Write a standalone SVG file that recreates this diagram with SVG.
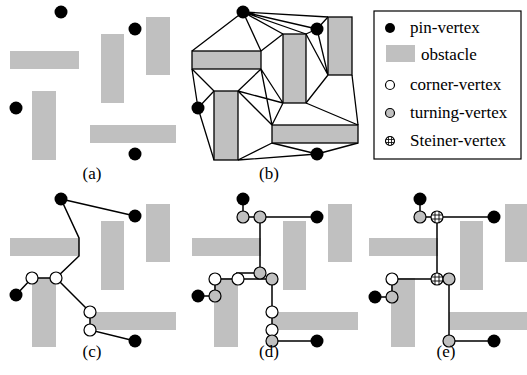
<svg xmlns="http://www.w3.org/2000/svg" width="527" height="375" viewBox="0 0 527 375">
<style>
.ob{fill:#c0c0c0}
.obs{fill:#c0c0c0;stroke:#000;stroke-width:1.3}
.pin{fill:#000}
.cv{fill:#fff;stroke:#000;stroke-width:1.2}
.tv{fill:#c0c0c0;stroke:#000;stroke-width:1.2}
.e{stroke:#000;stroke-width:1.3;fill:none}
.w{stroke:#000;stroke-width:1.5;fill:none}
.lbl{font-family:"Liberation Serif","Times New Roman",serif;font-size:17px;fill:#000}
</style>
<defs>
<g id="obstacles">
<rect class="ob" x="10" y="51" width="69" height="18"/>
<rect class="ob" x="101" y="34" width="23" height="69"/>
<rect class="ob" x="146" y="17" width="24" height="58"/>
<rect class="ob" x="32" y="91" width="24" height="69"/>
<rect class="ob" x="90" y="125" width="86" height="18"/>
</g>
<g id="steiner">
<circle r="6" fill="#fff" stroke="#000" stroke-width="1.2"/>
<path d="M-2,-5.6V5.6M2,-5.6V5.6M-5.6,-2H5.6M-5.6,2H5.6" stroke="#000" stroke-width="0.9"/>
</g>
<g id="steinerS">
<circle r="4.5" fill="#fff" stroke="#000" stroke-width="1.1"/>
<path d="M-1.5,-4.2V4.2M1.5,-4.2V4.2M-4.2,-1.5H4.2M-4.2,1.5H4.2" stroke="#000" stroke-width="0.8"/>
</g>
</defs>
<rect width="527" height="375" fill="#fff"/>

<!-- Panel (a) -->
<g id="panel-a">
<use href="#obstacles"/>
<g id="a-pins">
<circle class="pin" cx="61" cy="12" r="6.5"/>
<circle class="pin" cx="135" cy="29" r="6.5"/>
<circle class="pin" cx="16" cy="108" r="6.5"/>
<circle class="pin" cx="135" cy="154" r="6.5"/>
</g>
<text class="lbl" x="92" y="179" text-anchor="middle">(a)</text>
</g>

<!-- Panel (b) -->
<g id="panel-b" transform="translate(182,0)">
<g id="b-connectors" class="e">
<path d="M61,12L10,51M61,12L79,51M61,12L101,34M61,12L124,34M61,12L135,29M61,12L146,17"/>
<path d="M135,29L146,17M135,29L124,34M135,29L146,75M124,34L146,75M124,103L146,75"/>
<path d="M79,51L101,34M79,69L101,103M79,69L90,125M79,69L56,91M56,91L101,103M56,91L90,125M101,103L90,125"/>
<path d="M124,103L176,125M170,75L176,125"/>
<path d="M10,69L32,91M10,69L16,108M16,108L32,91M16,108L32,160"/>
<path d="M56,160L90,143M56,160L135,154M90,143L135,154M176,143L135,154"/>
</g>
<g id="b-obstacles">
<rect class="obs" x="10" y="51" width="69" height="18"/>
<rect class="obs" x="101" y="34" width="23" height="69"/>
<rect class="obs" x="146" y="17" width="24" height="58"/>
<rect class="obs" x="32" y="91" width="24" height="69"/>
<rect class="obs" x="90" y="125" width="86" height="18"/>
</g>
<g id="b-pins">
<circle class="pin" cx="61" cy="12" r="6.5"/>
<circle class="pin" cx="135" cy="29" r="6.5"/>
<circle class="pin" cx="16" cy="108" r="6.5"/>
<circle class="pin" cx="135" cy="154" r="6.5"/>
</g>
<text class="lbl" x="87" y="179" text-anchor="middle">(b)</text>
</g>

<!-- Legend -->
<g id="legend">
<rect x="374" y="11" width="147" height="148" fill="#fff" stroke="#000" stroke-width="1.2"/>
<g id="leg-pin"><circle class="pin" cx="390" cy="28" r="5"/><text class="lbl" x="410" y="33">pin-vertex</text></g>
<g id="leg-obstacle"><rect class="ob" x="386" y="45" width="29" height="17"/><text class="lbl" x="421" y="60">obstacle</text></g>
<g id="leg-corner"><circle class="cv" cx="390" cy="85" r="4.5"/><text class="lbl" x="410" y="90">corner-vertex</text></g>
<g id="leg-turning"><circle class="tv" cx="390" cy="113" r="4.5"/><text class="lbl" x="410" y="118">turning-vertex</text></g>
<g id="leg-steiner"><use href="#steinerS" x="390" y="141"/><text class="lbl" x="410" y="146">Steiner-vertex</text></g>
</g>

<!-- Panel (c) -->
<g id="panel-c" transform="translate(0,187)">
<use href="#obstacles"/>
<g id="c-connectors" class="w">
<path d="M61,12L135,29"/>
<path d="M61,12L79,51L79,69L56,91L32,91L16,108"/>
<path d="M56,91L90,125L90,143L135,154"/>
</g>
<g id="c-nodes">
<circle class="pin" cx="61" cy="12" r="6.5"/>
<circle class="pin" cx="135" cy="29" r="6.5"/>
<circle class="pin" cx="16" cy="108" r="6.5"/>
<circle class="pin" cx="135" cy="154" r="6.5"/>
<circle class="cv" cx="32" cy="91" r="6"/>
<circle class="cv" cx="56" cy="91" r="6"/>
<circle class="cv" cx="90" cy="125" r="6"/>
<circle class="cv" cx="90" cy="143" r="6"/>
</g>
<text class="lbl" x="92" y="170" text-anchor="middle">(c)</text>
</g>

<!-- Panel (d) -->
<g id="panel-d" transform="translate(182,187)">
<use href="#obstacles"/>
<g id="d-connectors" class="w">
<path d="M61,12L61,30L135,30"/>
<path d="M78,30L78,86L54,86"/>
<path d="M33,92L90,92L90,154L135,154"/>
<path d="M33,92L33,109L16,109"/>
</g>
<g id="d-nodes">
<circle class="pin" cx="61" cy="12" r="6.5"/>
<circle class="pin" cx="135" cy="30" r="6.5"/>
<circle class="pin" cx="16" cy="109" r="6.5"/>
<circle class="pin" cx="135" cy="154" r="6.5"/>
<circle class="tv" cx="61" cy="30" r="6"/>
<circle class="tv" cx="78" cy="30" r="6"/>
<circle class="tv" cx="78" cy="86" r="6"/>
<circle class="tv" cx="90" cy="92" r="6"/>
<circle class="cv" cx="33" cy="92" r="6"/>
<circle class="cv" cx="56" cy="92" r="6"/>
<circle class="tv" cx="33" cy="109" r="6"/>
<circle class="cv" cx="90" cy="125" r="6"/>
<circle class="cv" cx="90" cy="143" r="6"/>
<circle class="tv" cx="90" cy="154" r="6"/>
</g>
<text class="lbl" x="87" y="170" text-anchor="middle">(d)</text>
</g>

<!-- Panel (e) -->
<g id="panel-e" transform="translate(359,187)">
<use href="#obstacles"/>
<g id="e-connectors" class="w">
<path d="M61,12L61,30L135,30"/>
<path d="M78,30L78,92"/>
<path d="M33,92L90,92L90,154L135,154"/>
<path d="M33,92L33,110L16,110"/>
</g>
<g id="e-nodes">
<circle class="pin" cx="61" cy="12" r="6.5"/>
<circle class="pin" cx="135" cy="30" r="6.5"/>
<circle class="pin" cx="16" cy="110" r="6.5"/>
<circle class="pin" cx="135" cy="154" r="6.5"/>
<circle class="tv" cx="61" cy="30" r="6"/>
<use href="#steiner" x="78" y="30"/>
<use href="#steiner" x="78" y="92"/>
<circle class="tv" cx="90" cy="92" r="6"/>
<circle class="cv" cx="33" cy="92" r="6"/>
<circle class="tv" cx="33" cy="110" r="6"/>
<circle class="tv" cx="90" cy="154" r="6"/>
</g>
<text class="lbl" x="87" y="170" text-anchor="middle">(e)</text>
</g>
</svg>
